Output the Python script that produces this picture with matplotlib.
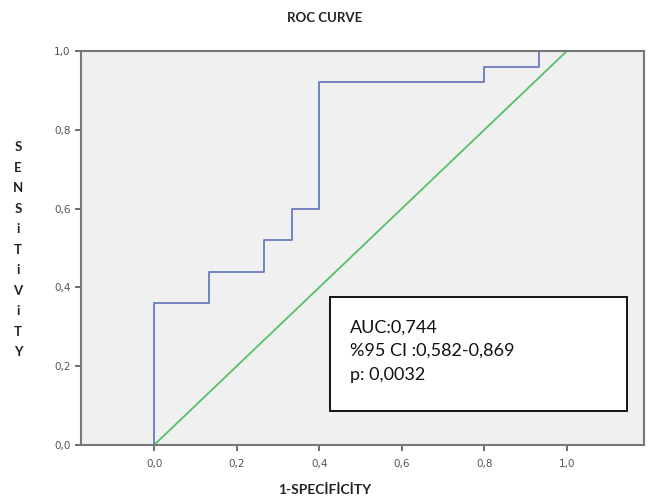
import matplotlib
matplotlib.use("Agg")
import matplotlib.pyplot as plt

# ROC curve steps (1-specificity, sensitivity)
fpr = [0.0, 0.0, 0.133, 0.133, 0.267, 0.267, 0.333, 0.333, 0.4, 0.4, 0.8, 0.8, 0.933, 0.933, 1.0]
tpr = [0.0, 0.36, 0.36, 0.44, 0.44, 0.52, 0.52, 0.60, 0.60, 0.92, 0.92, 0.96, 0.96, 1.0, 1.0]
ref_line = [0.0, 1.0]
ticks = [0.0, 0.2, 0.4, 0.6, 0.8, 1.0]
tick_labels = ["0,0", "0,2", "0,4", "0,6", "0,8", "1,0"]
stats_text = "AUC:0,744\n%95 CI :0,582-0,869\np: 0,0032"

fig = plt.figure(figsize=(6.49, 4.99), dpi=100)
ax = fig.add_axes([0.1248, 0.1082, 0.8672, 0.7898])
ax.set_facecolor("#f0f0f0")

ax.plot(fpr, tpr, color="#6b7bbd", lw=1.3)
ax.plot(ref_line, ref_line, color="#55c06a", lw=1.3)

ax.set_xlim(-0.177, 1.186)
ax.set_ylim(0, 1.0)
ax.set_xticks(ticks)
ax.set_xticklabels(tick_labels)
ax.set_yticks(ticks)
ax.set_yticklabels(tick_labels)
ax.tick_params(colors="#555555", labelsize=7.5, length=4, width=1.2, direction="out")
ax.tick_params(axis="x", pad=6)
for s in ax.spines.values():
    s.set_color("#777777")
    s.set_linewidth(1.5)

# title and axis labels
fig.text(0.5, 0.963, "ROC CURVE", ha="center", va="center",
         fontsize=9.5, fontweight="bold", family="Lato", color="#222222")
fig.text(0.5, 0.018, "1-SPECİFİCİTY", ha="center", va="center",
         fontsize=10, fontweight="bold", family="Lato", color="#222222")
fig.text(0.028, 0.499, "\n".join("SENSiTiViTY"), ha="center", va="center",
         fontsize=9.5, fontweight="bold", family="Lato", color="#222222",
         linespacing=1.85)

# stats box
box = plt.Rectangle((330 / 649, (499 - 411) / 499), (627 - 330) / 649, (411 - 297) / 499,
                    transform=fig.transFigure, facecolor="white", edgecolor="black", lw=1.3)
fig.patches.append(box)
fig.text(350 / 649, (499 - 351) / 499, stats_text, ha="left", va="center",
         fontsize=13, family="Lato", color="#111111", linespacing=1.6)

fig.savefig("out.png", dpi=100)
